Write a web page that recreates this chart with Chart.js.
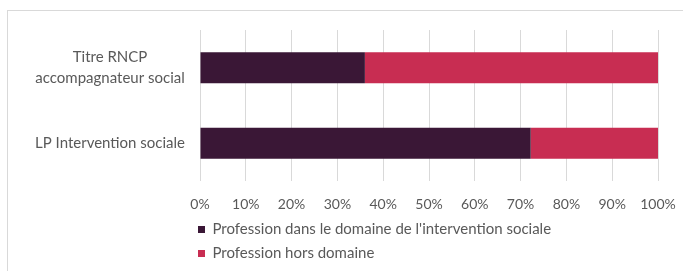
<!DOCTYPE html>
<html>
<head>
<meta charset="utf-8">
<script src="https://cdn.jsdelivr.net/npm/chart.js@4/dist/chart.umd.min.js"></script>
<style>
  html, body { margin: 0; padding: 0; background: #ffffff; }
  #wrap { position: relative; width: 683px; height: 271px; }
</style>
</head>
<body>
<div id="wrap"><canvas id="c" width="683" height="271"></canvas></div>
<script>
const categories = [
  ['Titre RNCP', 'accompagnateur social'],
  'LP Intervention sociale'
];
const seriesNames = [
  "Profession dans le domaine de l'intervention sociale",
  'Profession hors domaine'
];
const seriesDans = [36.0, 72.2];
const seriesHors = [64.0, 27.8];
const tickValues = [0, 10, 20, 30, 40, 50, 60, 70, 80, 90, 100];

const FONT = 'Lato, "Open Sans", sans-serif';
const TEXT = '#595959';

const framePlugin = {
  id: 'frame',
  beforeDraw(chart) {
    const ctx = chart.ctx;
    ctx.save();
    ctx.fillStyle = '#ffffff';
    ctx.fillRect(0, 0, chart.width, chart.height);
    ctx.strokeStyle = '#d9d9d9';
    ctx.lineWidth = 1;
    ctx.strokeRect(7.5, 10.5, 720, 320);
    ctx.restore();
  },
  afterLayout(chart) {
    if (chart.legend) {
      chart.legend.left -= 11;
      chart.legend.right -= 11;
    }
  }
};

new Chart(document.getElementById('c'), {
  type: 'bar',
  data: {
    labels: categories,
    datasets: [
      { label: seriesNames[0], data: seriesDans, backgroundColor: '#3a1736', borderWidth: 0,
        categoryPercentage: 1, barPercentage: 0.41 },
      { label: seriesNames[1], data: seriesHors, backgroundColor: '#c82d52', borderWidth: 0,
        categoryPercentage: 1, barPercentage: 0.41 }
    ]
  },
  options: {
    indexAxis: 'y',
    responsive: false,
    animation: false,
    layout: { padding: { top: 30, right: 25, bottom: 0, left: 0 } },
    scales: {
      x: {
        stacked: true,
        min: 0, max: 100,
        afterBuildTicks(scale) { scale.ticks = tickValues.map(v => ({ value: v })); },
        afterFit(scale) { scale.height = 32; scale.paddingRight = 0; scale.paddingLeft = 0; },
        grid: { color: '#d9d9d9', lineWidth: 1, drawTicks: false },
        border: { display: false },
        ticks: {
          padding: 15,
          color: TEXT,
          font: { family: FONT, size: 14 },
          callback: v => v + '%'
        }
      },
      y: {
        stacked: true,
        afterFit(scale) { scale.width = 200; },
        grid: { display: false, drawTicks: false },
        border: { display: false },
        ticks: {
          padding: 15,
          crossAlign: 'center',
          color: TEXT,
          font: { family: FONT, size: 15, lineHeight: 1.4 }
        }
      }
    },
    plugins: {
      title: { display: false },
      tooltip: { enabled: false },
      legend: {
        display: true,
        position: 'bottom',
        align: 'start',
        fullSize: false,
        labels: {
          boxWidth: 7,
          boxHeight: 7,
          padding: 9,
          color: TEXT,
          font: { family: FONT, size: 15 }
        }
      }
    }
  },
  plugins: [framePlugin]
});
</script>
</body>
</html>
